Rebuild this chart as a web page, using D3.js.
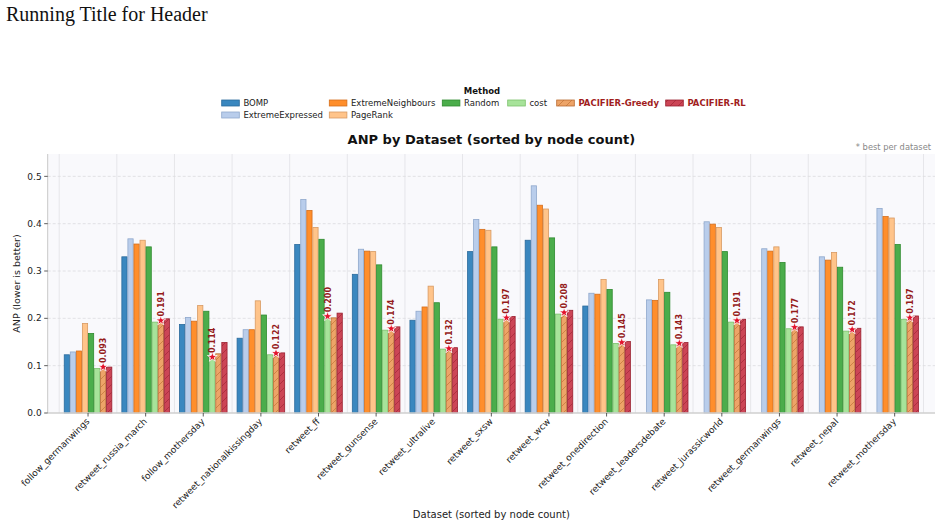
<!DOCTYPE html>
<html><head><meta charset="utf-8">
<script src="https://cdn.jsdelivr.net/npm/d3@7"></script>
<style>
body{margin:0;background:#fff;}
svg text{font-family:"DejaVu Sans",sans-serif;}
</style></head>
<body><svg id="c" width="942" height="527"></svg>
<script>
const datasets=["follow_germanwings","retweet_russia_march","follow_mothersday","retweet_nationalkissingday","retweet_ff","retweet_gunsense","retweet_ultralive","retweet_sxsw","retweet_wcw","retweet_onedirection","retweet_leadersdebate","retweet_jurassicworld","retweet_germanwings","retweet_nepal","retweet_mothersday"];
const methods=["BOMP","ExtremeExpressed","ExtremeNeighbours","PageRank","Random","cost","PACIFIER-Greedy","PACIFIER-RL"];
const BOMP=[0.123,0.330,0.187,0.158,0.356,0.293,0.196,0.341,0.365,0.226,null,null,null,null,null];
const ExtremeExpressed=[0.129,0.368,0.202,0.176,0.451,0.346,0.215,0.409,0.480,0.253,0.239,0.404,0.347,0.330,0.432];
const ExtremeNeighbours=[0.131,0.357,0.194,0.176,0.428,0.342,0.224,0.388,0.439,0.251,0.238,0.399,0.342,0.323,0.415];
const PageRank=[0.189,0.365,0.227,0.237,0.392,0.341,0.268,0.386,0.431,0.282,0.282,0.392,0.351,0.339,0.412];
const Random=[0.168,0.351,0.215,0.207,0.367,0.313,0.233,0.351,0.370,0.261,0.255,0.341,0.318,0.308,0.356];
const cost=[0.094,0.192,0.114,0.123,0.200,0.175,0.135,0.198,0.209,0.147,0.144,0.192,0.178,0.173,0.198];
const PACIFIER_Greedy=[0.093,0.191,0.125,0.122,0.201,0.174,0.132,0.197,0.208,0.145,0.143,0.191,0.177,0.172,0.197];
const PACIFIER_RL=[0.097,0.199,0.149,0.127,0.211,0.182,0.138,0.204,0.217,0.151,0.149,0.198,0.182,0.179,0.205];
const yTicks=[0.0,0.1,0.2,0.3,0.4,0.5];
const series=[BOMP,ExtremeExpressed,ExtremeNeighbours,PageRank,Random,cost,PACIFIER_Greedy,PACIFIER_RL];

const fills=["#3a87bf","#b9cdeb","#ff8e2b","#ffc48a","#4bad4b","#a7e39a","#eda468","#cc4556"];
const strokes=["#2a6a9c","#8fa8cc","#d46e1c","#d89a62","#2f8a2f","#7cc06c","#b86a30","#9a2030"];

const svg=d3.select("#c");
const L=47.7,R=935,T=154,B=413;

svg.append("text").attr("x",6).attr("y",21).text("Running Title for Header")
  .style("font-family","'Liberation Serif','Times New Roman',serif").style("font-size","20px").attr("fill","#111");

const defs=svg.append("defs");
[6,7].forEach(i=>{
  const p=defs.append("pattern").attr("id","h"+i).attr("patternUnits","userSpaceOnUse")
    .attr("width",8).attr("height",8);
  p.append("rect").attr("width",8).attr("height",8).attr("fill",fills[i]);
  p.append("path").attr("d","M-1,1 l2,-2 M0,8 l8,-8 M7,9 l2,-2").attr("stroke",strokes[i]).attr("stroke-width",0.7).attr("stroke-opacity",0.85);
});

const x=d3.scaleLinear().domain([-0.7,14.7]).range([L,R]);
const y=d3.scaleLinear().domain([0,0.5]).range([B,B-0.5*473.3]);

svg.append("rect").attr("x",L).attr("y",T).attr("width",R-L).attr("height",B-T).attr("fill","#f9f9fc");

const g=svg.append("g");
d3.range(-0.5,15,1).forEach(v=>{
  g.append("line").attr("x1",x(v)).attr("x2",x(v)).attr("y1",T).attr("y2",B).attr("stroke","#e6e6ea").attr("stroke-width",1);
});
yTicks.slice(1).forEach(v=>{
  g.append("line").attr("x1",L).attr("x2",R).attr("y1",y(v)).attr("y2",y(v)).attr("stroke","#dcdcdf").attr("stroke-width",0.8).attr("stroke-dasharray","3,2");
});

const groupW=0.84, bw=groupW/8;
const bars=svg.append("g");
series.forEach((s,mi)=>{
  s.forEach((v,di)=>{
    if(v==null) return;
    const x0=x(di-groupW/2+mi*bw), x1=x(di-groupW/2+(mi+1)*bw);
    bars.append("rect").attr("x",x0+0.4).attr("y",y(v)).attr("width",x1-x0-0.8).attr("height",y(0)-y(v))
      .attr("fill",mi>=6?"url(#h"+mi+")":fills[mi]).attr("stroke",strokes[mi]).attr("stroke-width",0.8);
  });
});

const star=d3.symbol().type(d3.symbolStar).size(30);
datasets.forEach((d,di)=>{
  let best=Infinity,bi=-1;
  series.forEach((s,mi)=>{ if(s[di]!=null && s[di]<best){best=s[di];bi=mi;} });
  const cx=x(di-groupW/2+(bi+0.5)*bw), cy=y(best)-2;
  svg.append("path").attr("d",star).attr("transform",`translate(${cx},${cy})`).attr("fill","#e3132c").attr("stroke","#fff").attr("stroke-width",0.8);
  svg.append("text").attr("transform",`translate(${cx+3},${cy-4}) rotate(-90)`).text(best.toFixed(3))
    .attr("fill","#951b1b").style("font-size","8px").style("font-weight","bold");
});

svg.append("line").attr("x1",L).attr("x2",L).attr("y1",T).attr("y2",B).attr("stroke","#c8c8c8").attr("stroke-width",1);
svg.append("line").attr("x1",L).attr("x2",R).attr("y1",B).attr("y2",B).attr("stroke","#cfcfcf").attr("stroke-width",1.5);
yTicks.forEach(v=>{
  svg.append("line").attr("x1",L-3.5).attr("x2",L).attr("y1",y(v)).attr("y2",y(v)).attr("stroke","#333").attr("stroke-width",0.8);
  svg.append("text").attr("x",L-6).attr("y",y(v)).attr("dy","0.35em").attr("text-anchor","end").text(v.toFixed(1))
    .style("font-size","9px").attr("fill","#222");
});
datasets.forEach((d,di)=>{
  svg.append("line").attr("x1",x(di)).attr("x2",x(di)).attr("y1",B).attr("y2",B+3.5).attr("stroke","#333").attr("stroke-width",0.8);
  svg.append("text").attr("transform",`translate(${x(di)+2},${B+9}) rotate(-45)`).attr("text-anchor","end").text(d)
    .style("font-size","9px").attr("fill","#222");
});
svg.append("text").attr("transform",`translate(20,${(T+B)/2}) rotate(-90)`).attr("text-anchor","middle").text("ANP (lower is better)")
  .style("font-size","9.5px").attr("fill","#222");
svg.append("text").attr("x",(L+R)/2).attr("y",518).attr("text-anchor","middle").text("Dataset (sorted by node count)")
  .style("font-size","10px").attr("fill","#222");

svg.append("text").attr("x",(L+R)/2).attr("y",144).attr("text-anchor","middle").text("ANP by Dataset (sorted by node count)")
  .style("font-size","13px").style("font-weight","bold").attr("fill","#111");
svg.append("text").attr("x",931).attr("y",150).attr("text-anchor","end").text("* best per dataset")
  .style("font-size","8.3px").attr("fill","#888");

const leg=svg.append("g");
leg.append("text").attr("x",482).attr("y",94).attr("text-anchor","middle").text("Method").style("font-size","8.5px").style("font-weight","bold").attr("fill","#111");
const legPos=[[221.7,103],[221.7,115],[329.3,103],[329.3,115],[442.3,103],[507.7,103],[556.7,103],[665.7,103]];
methods.forEach((m,mi)=>{
  const [lx,ly]=legPos[mi];
  leg.append("rect").attr("x",lx).attr("y",ly-3).attr("width",17.6).attr("height",6)
    .attr("fill",mi>=6?"url(#h"+mi+")":fills[mi]).attr("stroke",strokes[mi]).attr("stroke-width",0.8);
  leg.append("text").attr("x",lx+21.7).attr("y",ly).attr("dy","0.35em").text(m)
    .style("font-size","8.5px").style("font-weight",mi>=6?"bold":"normal").attr("fill",mi>=6?"#a11d1d":"#222");
});
</script></body></html>
